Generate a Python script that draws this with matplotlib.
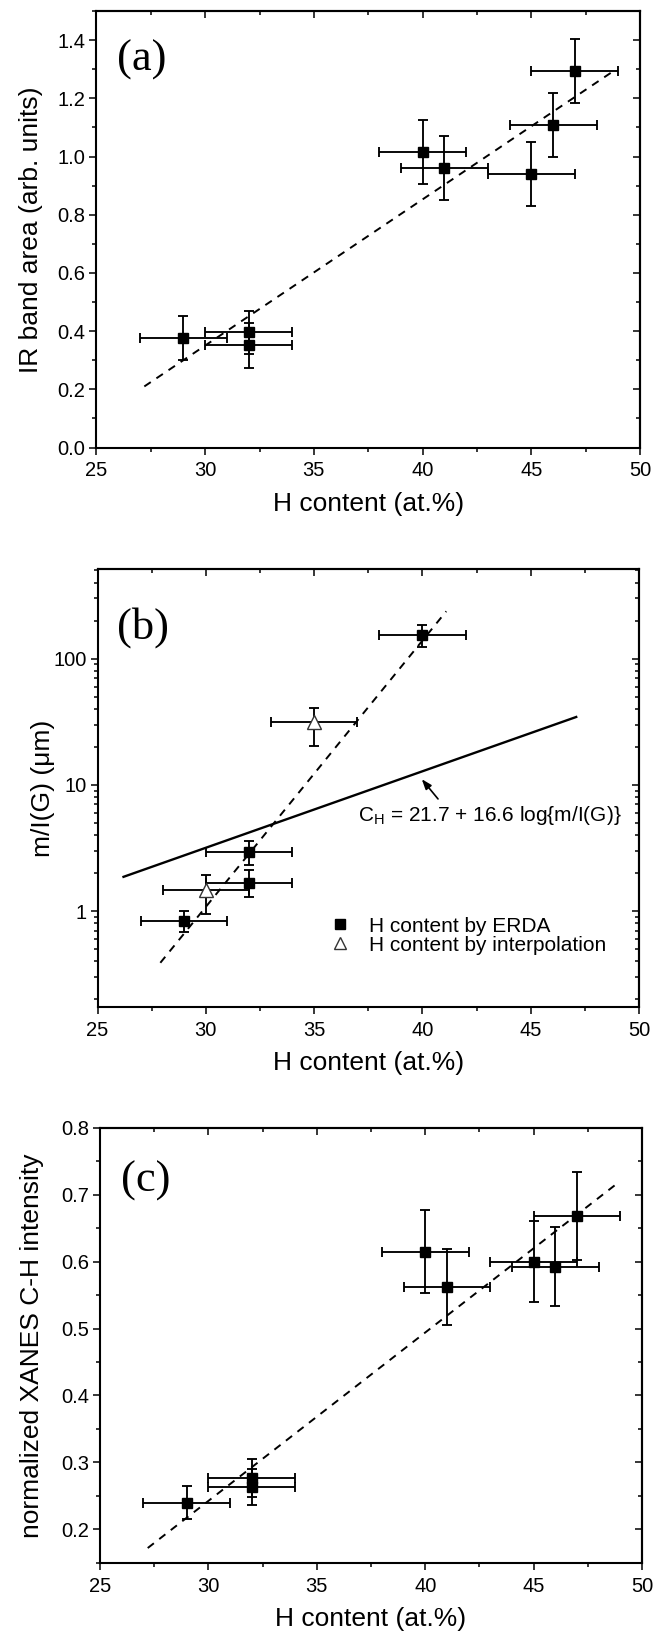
import matplotlib
matplotlib.use("Agg")
import matplotlib.pyplot as plt
from matplotlib.lines import Line2D
from matplotlib.ticker import MultipleLocator, LogLocator, FuncFormatter, NullFormatter

plt.rcParams['font.family'] = ['Liberation Sans', 'DejaVu Sans']
plt.rcParams['mathtext.fontset'] = 'custom'
plt.rcParams['mathtext.rm'] = 'Liberation Sans'

# ---- panel (a): IR band area vs H content
a_h = [29, 32, 32, 40, 41, 45, 46, 47]
a_h_err = [2, 2, 2, 2, 2, 2, 2, 2]
a_ir = [0.376, 0.396, 0.351, 1.016, 0.960, 0.939, 1.109, 1.293]
a_ir_err = [0.075, 0.074, 0.077, 0.110, 0.110, 0.110, 0.110, 0.110]
a_fit_h = [27.2, 48.9]
a_fit_ir = [0.21, 1.30]

# ---- panel (b): m/I(G) vs H content (log)
b_erda_h = [29, 32, 32, 40]
b_erda_m = [0.83, 1.68, 2.94, 155]
b_erda_lo = [0.68, 1.29, 2.30, 124]
b_erda_hi = [1.00, 2.10, 3.57, 184]
b_interp_h = [30, 35]
b_interp_m = [1.46, 31.5]
b_interp_lo = [0.95, 20.5]
b_interp_hi = [1.92, 40.6]
b_h_err = 2
b_fit_h = [27.9, 41.1]
b_fit_m = [0.39, 237]
b_cal_h = [26.2, 47.1]
b_cal_m = [1.87, 34.5]
b_eq = 'C$_\\mathregular{H}$ = 21.7 + 16.6 log{m/I(G)}'
b_legend = ['H content by ERDA', 'H content by interpolation']

# ---- panel (c): XANES C-H intensity vs H content
c_h = [29, 32, 32, 40, 41, 45, 46, 47]
c_h_err = [2, 2, 2, 2, 2, 2, 2, 2]
c_int = [0.240, 0.277, 0.263, 0.615, 0.562, 0.600, 0.592, 0.668]
c_int_err = [0.024, 0.028, 0.027, 0.062, 0.057, 0.060, 0.059, 0.066]
c_fit_h = [27.2, 48.9]
c_fit_int = [0.172, 0.718]

xlabel = 'H content (at.%)'
eb_kw = dict(fmt='none', ecolor='black', elinewidth=1.35, capsize=3.3, capthick=1.35, zorder=2)
dash = (0, (4, 3.5))


def style_axes(ax, log=False):
    for s in ax.spines.values():
        s.set_linewidth(1.5)
    ax.set_xlim(25, 50)
    ax.xaxis.set_major_locator(MultipleLocator(5))
    ax.xaxis.set_minor_locator(MultipleLocator(2.5))
    ax.tick_params(which='both', direction='out', width=1.1, labelsize=14.5)
    ax.tick_params(which='major', length=5)
    ax.tick_params(which='minor', length=3)
    ax.tick_params(axis='x', pad=5)
    ax.tick_params(axis='y', pad=3)
    # inward ticks on top and right
    top = ax.secondary_xaxis('top')
    top.xaxis.set_major_locator(MultipleLocator(5))
    top.xaxis.set_minor_locator(MultipleLocator(2.5))
    top.tick_params(which='both', direction='in', width=1.1, labeltop=False)
    top.tick_params(which='major', length=5)
    top.tick_params(which='minor', length=3)
    right = ax.secondary_yaxis('right')
    if not log:
        right.yaxis.set_major_locator(ax.yaxis.get_major_locator())
        right.yaxis.set_minor_locator(ax.yaxis.get_minor_locator())
    else:
        right.yaxis.set_major_locator(LogLocator(base=10))
        right.yaxis.set_minor_locator(LogLocator(base=10, subs=range(2, 10)))
        right.yaxis.set_minor_formatter(NullFormatter())
    right.tick_params(which='both', direction='in', width=1.1, labelright=False)
    right.tick_params(which='major', length=5)
    right.tick_params(which='minor', length=3)
    for sec in (top, right):
        for s in sec.spines.values():
            s.set_linewidth(1.5)
    ax.set_xlabel(xlabel, fontsize=19, labelpad=8)


fig = plt.figure(figsize=(6.55, 16.34), dpi=100)
ax_a = fig.add_axes([0.1473, 0.7261, 0.8298, 0.2671])
ax_b = fig.add_axes([0.1489, 0.3835, 0.8267, 0.2681])
ax_c = fig.add_axes([0.1527, 0.0436, 0.8275, 0.2662])

# (a)
ax_a.set_ylim(0, 1.5)
ax_a.yaxis.set_major_locator(MultipleLocator(0.2))
ax_a.yaxis.set_minor_locator(MultipleLocator(0.1))
ax_a.yaxis.set_major_formatter(FuncFormatter(lambda v, p: f'{v:.1f}'))
ax_a.plot(a_fit_h, a_fit_ir, color='black', lw=1.4, ls=dash, zorder=1)
ax_a.errorbar(a_h, a_ir, xerr=a_h_err, yerr=a_ir_err, **eb_kw)
ax_a.plot(a_h, a_ir, 's', color='black', ms=7.8, zorder=3)
ax_a.set_ylabel('IR band area (arb. units)', fontsize=19)
ax_a.yaxis.set_label_coords(-0.098, 0.5)
ax_a.text(0.0837, 0.888, '(a)', transform=ax_a.transAxes, family='Liberation Serif',
          fontsize=32, ha='center', va='center')
style_axes(ax_a)

# (b)
ax_b.set_yscale('log')
ax_b.set_ylim(0.173, 510)
ax_b.yaxis.set_major_locator(LogLocator(base=10))
ax_b.yaxis.set_minor_locator(LogLocator(base=10, subs=range(2, 10)))
ax_b.yaxis.set_major_formatter(FuncFormatter(lambda v, p: f'{v:g}'))
ax_b.yaxis.set_minor_formatter(NullFormatter())
ax_b.plot(b_fit_h, b_fit_m, color='black', lw=1.4, ls=dash, zorder=1)
ax_b.plot(b_cal_h, b_cal_m, color='black', lw=1.7, zorder=1)
ax_b.errorbar(b_erda_h, b_erda_m, xerr=b_h_err,
              yerr=[[m - lo for m, lo in zip(b_erda_m, b_erda_lo)],
                    [hi - m for m, hi in zip(b_erda_m, b_erda_hi)]], **eb_kw)
ax_b.errorbar(b_interp_h, b_interp_m, xerr=b_h_err,
              yerr=[[m - lo for m, lo in zip(b_interp_m, b_interp_lo)],
                    [hi - m for m, hi in zip(b_interp_m, b_interp_hi)]], **eb_kw)
ax_b.plot(b_erda_h, b_erda_m, 's', color='black', ms=7.8, zorder=3)
ax_b.plot(b_interp_h, b_interp_m, '^', mfc='white', mec='#333333', mew=1.0, ms=10, zorder=3)
ax_b.annotate('', xy=(39.97, 11.1), xytext=(40.72, 7.74),
              arrowprops=dict(arrowstyle='-|>,head_length=0.6,head_width=0.22',
                              color='black', lw=1.2, shrinkA=0, shrinkB=0))
ax_b.text(37.03, 5.68, b_eq, fontsize=15, ha='left', va='center')
handles = [Line2D([], [], marker='s', color='black', ls='none', ms=7),
           Line2D([], [], marker='^', mfc='white', mec='#333333', mew=1.0, ls='none', ms=9)]
ax_b.legend(handles, b_legend, loc='upper left', bbox_to_anchor=(0.428, 0.207),
            frameon=False, fontsize=15, handlelength=1.0, handletextpad=0.9,
            borderpad=0, borderaxespad=0, labelspacing=0.0)
ax_b.set_ylabel('m/I(G) (\u03bcm)', fontsize=19)
ax_b.yaxis.set_label_coords(-0.078, 0.5)
ax_b.text(0.0837, 0.866, '(b)', transform=ax_b.transAxes, family='Liberation Serif',
          fontsize=32, ha='center', va='center')
style_axes(ax_b, log=True)

# (c)
ax_c.set_ylim(0.15, 0.8)
ax_c.yaxis.set_major_locator(MultipleLocator(0.1))
ax_c.yaxis.set_minor_locator(MultipleLocator(0.05))
ax_c.yaxis.set_major_formatter(FuncFormatter(lambda v, p: f'{v:.1f}'))
ax_c.plot(c_fit_h, c_fit_int, color='black', lw=1.4, ls=dash, zorder=1)
ax_c.errorbar(c_h, c_int, xerr=c_h_err, yerr=c_int_err, **eb_kw)
ax_c.plot(c_h, c_int, 's', color='black', ms=7.8, zorder=3)
ax_c.set_ylabel('normalized XANES C-H intensity', fontsize=19)
ax_c.yaxis.set_label_coords(-0.103, 0.5)
ax_c.text(0.0837, 0.877, '(c)', transform=ax_c.transAxes, family='Liberation Serif',
          fontsize=32, ha='center', va='center')
style_axes(ax_c)

fig.savefig('out.png', dpi=100)
